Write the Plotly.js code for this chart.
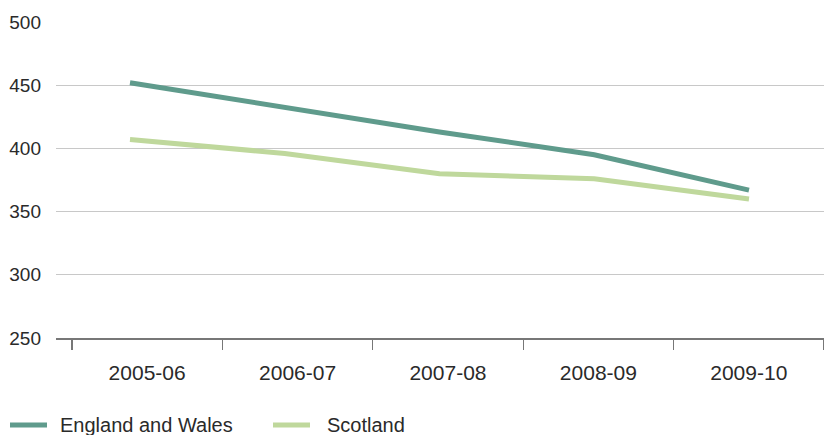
<!DOCTYPE html>
<html>
<head>
<meta charset="utf-8">
<script src="https://cdn.plot.ly/plotly-3.0.1.min.js"></script>
<style>html,body{margin:0;padding:0;background:#fff;}#chart{width:824px;height:435px;}</style>
</head>
<body>
<div id="chart"></div>
<script>
var years = ["2005-06", "2006-07", "2007-08", "2008-09", "2009-10"];
var englandWales = [452, 432, 413, 395, 367];
var scotland = [407, 396, 380, 376, 360];
var yTicks = [250, 300, 350, 400, 450, 500];
var seriesNames = ["England and Wales", "Scotland"];
var seriesColors = ["#5f9b8c", "#bfd89c"];

var FONT = "Liberation Sans, Arial, sans-serif";
var traces = [
  {x: years, y: years.map(function(){return null;}), xaxis: "x", yaxis: "y", type: "scatter",
   mode: "lines", showlegend: false, hoverinfo: "skip"},
  {x: years, y: englandWales, name: seriesNames[0], type: "scatter", mode: "lines",
   xaxis: "x2", line: {color: seriesColors[0], width: 5}},
  {x: years, y: scotland, name: seriesNames[1], type: "scatter", mode: "lines",
   xaxis: "x2", line: {color: seriesColors[1], width: 5}}
];

// manual legend below plot (paper coords: x from 56..824 px, y from 338..22 px)
function px2x(p){ return (p - 56) / 768; }
function px2y(p){ return (338 - p) / 316; }
var legendY = 425;
var legendItems = [{x0: 10, x1: 47, tx: 58}, {x0: 273, x1: 310, tx: 325}];
var shapes = [], annotations = [];
legendItems.forEach(function(it, i){
  shapes.push({type: "line", xref: "paper", yref: "paper",
    x0: px2x(it.x0), x1: px2x(it.x1), y0: px2y(legendY), y1: px2y(legendY),
    line: {color: seriesColors[i], width: 5}});
  annotations.push({xref: "paper", yref: "paper", x: px2x(it.tx), y: px2y(legendY),
    xanchor: "left", yanchor: "middle", showarrow: false, text: seriesNames[i],
    font: {family: FONT, size: 20, color: "#2a2a2a"}});
});

var layout = {
  width: 824, height: 435,
  margin: {l: 56, r: 0, t: 22, b: 97},
  paper_bgcolor: "#fff", plot_bgcolor: "#fff",
  font: {family: FONT, size: 19, color: "#2a2a2a"},
  showlegend: false,
  shapes: shapes, annotations: annotations,
  xaxis: {type: "category", categoryarray: years, categoryorder: "array",
          range: [-0.606, 4.5], tickson: "boundaries", ticks: "outside", ticklen: 10,
          tickcolor: "#777", tickwidth: 1.3, showline: true, linecolor: "#777", linewidth: 1.6,
          showgrid: false, zeroline: false, ticklabelstandoff: 15,
          tickfont: {family: FONT, size: 21, color: "#2a2a2a"}, fixedrange: true},
  xaxis2: {type: "category", categoryarray: years, categoryorder: "array",
           range: [-0.4782, 4.4847], overlaying: "x", visible: false, fixedrange: true},
  yaxis: {range: [250, 500], tickvals: yTicks, ticktext: yTicks.map(String),
          showgrid: true, gridcolor: "#c8c8c8", gridwidth: 1.3, zeroline: false, showline: false,
          ticks: "", ticklabelstandoff: 14, tickfont: {family: FONT, size: 19, color: "#2a2a2a"},
          fixedrange: true}
};
Plotly.newPlot("chart", traces, layout, {displayModeBar: false, staticPlot: true});
</script>
</body>
</html>
